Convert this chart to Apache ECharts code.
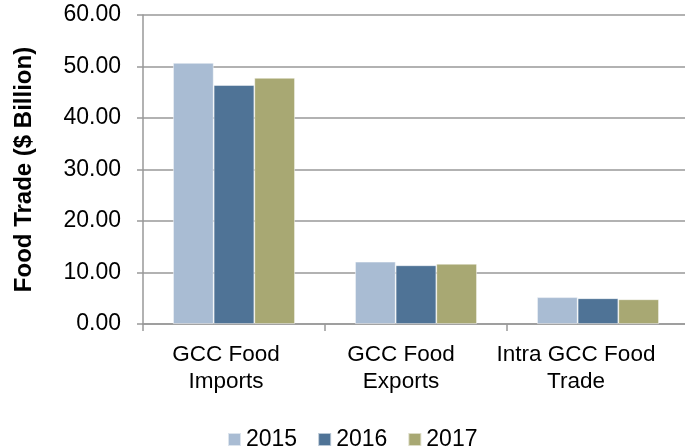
<!DOCTYPE html>
<html><head><meta charset="utf-8">
<script src="https://cdn.jsdelivr.net/npm/echarts@6/dist/echarts.min.js"></script>
<style>html,body{margin:0;padding:0;background:#fff}#c{width:685px;height:448px}</style>
</head><body><div id="c"></div>
<script>
var categories = ['GCC Food\nImports', 'GCC Food\nExports', 'Intra GCC Food\nTrade'];
var years = ['2015', '2016', '2017'];
var v2015 = [50.7, 12.1, 5.2];
var v2016 = [46.4, 11.4, 5.0];
var v2017 = [47.8, 11.7, 4.8];
var yTicks = [0, 10, 20, 30, 40, 50, 60];
// label shift to the left (px) per category, as in the original
var labelShift = [8, 15, 22];
var colors = ['#A9BCD3', '#4F7396', '#A8A873'];
var font = 'Liberation Sans, Arial, sans-serif';
var chart = echarts.init(document.getElementById('c'));
var vals = [v2015, v2016, v2017];
chart.setOption({
  animation: false,
  grid: {left: 143, top: 15, width: 546, bottom: 124, containLabel: false, outerBoundsMode: 'none'},
  legend: {
    data: years, top: 423, left: 222, itemWidth: 13, itemHeight: 13, itemGap: 20,
    icon: 'rect',
    textStyle: {fontFamily: font, fontSize: 23, color: '#000'}
  },
  xAxis: {
    type: 'category',
    data: categories.map(function (c, i) {
      return {value: c, textStyle: {padding: [0, labelShift[i] * 2, 0, 0]}};
    }),
    axisLine: {lineStyle: {color: '#999', width: 1.5}},
    axisTick: {show: true, length: 7, lineStyle: {color: '#999', width: 1.5}},
    axisLabel: {fontFamily: font, fontSize: 22.5, color: '#000', lineHeight: 27, margin: 17, interval: 0, hideOverlap: false}
  },
  yAxis: {
    type: 'value', min: yTicks[0], max: yTicks[yTicks.length - 1], interval: 10,
    name: 'Food Trade ($ Billion)', nameLocation: 'middle', nameGap: 107,
    nameTextStyle: {fontFamily: font, fontSize: 24, fontWeight: 'bold', color: '#000'},
    axisLine: {show: true, lineStyle: {color: '#999', width: 1.5}},
    axisTick: {show: true, length: 6, lineStyle: {color: '#999', width: 1.5}},
    splitLine: {lineStyle: {color: '#999', width: 1.5}},
    axisLabel: {fontFamily: font, fontSize: 23, color: '#000', margin: 22,
      formatter: function (v) { return v.toFixed(2); }}
  },
  series: years.map(function (y, i) {
    return {
      name: y, type: 'bar', data: vals[i], barGap: '0%', barCategoryGap: '33%',
      itemStyle: {color: colors[i], borderColor: 'rgba(255,255,255,0.6)', borderWidth: 0.8}
    };
  })
});
</script></body></html>
